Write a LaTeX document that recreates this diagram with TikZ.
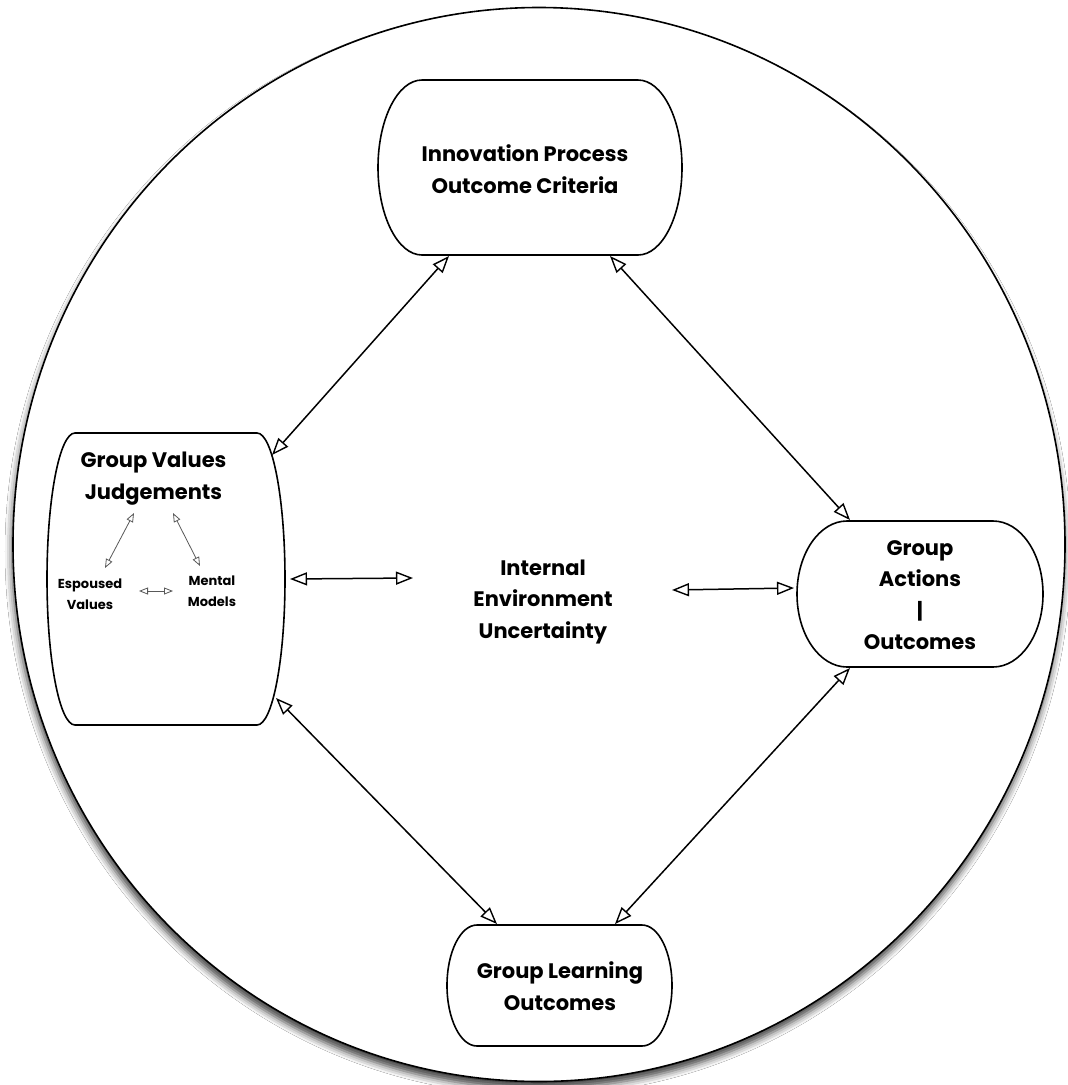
\documentclass[tikz,border=0pt]{standalone}
\usepackage{fontspec}
\setmainfont{Poppins}
\usetikzlibrary{arrows.meta,calc,shapes.geometric,shadows.blur}
\tikzset{
  boxline/.style={line width=1.6pt},
  dbl/.style={line width=1.5pt,
    {Triangle[open,length=17pt,width=13pt,line width=1.4pt]}-{Triangle[open,length=17pt,width=13pt,line width=1.4pt]}},
  sdbl/.style={line width=0.8pt, draw=black!65,
    {Triangle[open,length=9pt,width=7pt,line width=0.8pt]}-{Triangle[open,length=9pt,width=7pt,line width=0.8pt]}},
  lbl/.style={font=\fontsize{21}{31.5}\selectfont\bfseries, align=center, inner sep=0pt},
  slbl/.style={font=\fontsize{13}{21}\selectfont\bfseries, align=center, inner sep=0pt},
}
\newcommand\capbox[6]{%
  \node[minimum width=#4pt, minimum height=#5pt, inner sep=0pt, outer sep=0pt] (#1) at (#2,#3) {};
  \draw[boxline, fill=white] ($(#1.north west)+(#6pt,0pt)$) -- ($(#1.north east)+(-#6pt,0pt)$)
    arc[start angle=90, end angle=-90, x radius=#6pt, y radius=#5pt/2]
    -- ($(#1.south west)+(#6pt,0pt)$)
    arc[start angle=270, end angle=90, x radius=#6pt, y radius=#5pt/2] -- cycle;
}
\begin{document}
\begin{tikzpicture}[x=1pt,y=-1pt]
\useasboundingbox (0,0) rectangle (1068,1085);
\fill[white] (0,0) rectangle (1068,1085);
% outer environment ellipse
\node[ellipse, draw, line width=1.6pt, fill=white, minimum width=1052pt, minimum height=1074pt,
  inner sep=0pt, blur shadow={shadow xshift=-1pt, shadow yshift=-7pt, shadow blur radius=7pt, shadow opacity=75}]
  (outer) at (539,544.5) {};
% boxes
\capbox{top}{530}{167.5}{304}{175}{44}
\capbox{gv}{166}{579}{238}{292}{28}
\capbox{ga}{920}{594}{246}{146}{50}
\capbox{gl}{559.5}{985.5}{225}{121}{30}
% texts
\node[lbl] (toptxt) at (525,169) {Innovation Process\\Outcome Criteria};
\node[lbl] (gvtxt) at (153.5,478.5) {Group Values\\Judgements};
\node[slbl] (esp) at (90,594) {Espoused\\Values};
\node[slbl] (men) at (212,591) {Mental\\Models};
\node[lbl] (envtxt) at (543,602) {Internal\\Environment\\Uncertainty};
\node[lbl] (gatxt) at (920,595) {Group\\Actions\\|\\Outcomes};
\node[lbl] (gltxt) at (560,986) {Group Learning\\Outcomes};
% main connectors
\draw[dbl] ($(top.south)+(-81,1)$) -- ($(gv.north east)+(-13,22)$);
\draw[dbl] ($(top.south)+(80,1)$) -- ($(ga.north)+(-70,-1)$);
\draw[dbl] ($(gv.south east)+(-9,-27)$) -- ($(gl.north)+(-62.5,-1)$);
\draw[dbl] ($(ga.south)+(-70,1)$) -- ($(gl.north)+(55.5,-1)$);
\draw[dbl] ($(gv.east)+(5,0)$) -- ($(envtxt.center)+(-130,-24)$);
\draw[dbl] ($(envtxt.center)+(129,-12)$) -- ($(ga.west)+(-3,-6)$);
% small connectors
\draw[sdbl] ($(gvtxt.center)+(-19.5,34.5)$) -- ($(esp.center)+(15,-26)$);
\draw[sdbl] ($(gvtxt.center)+(19.5,34.5)$) -- ($(men.center)+(-12,-25)$);
\draw[sdbl] ($(esp.center)+(49,-3)$) -- ($(men.center)+(-39,0)$);
\end{tikzpicture}
\end{document}
